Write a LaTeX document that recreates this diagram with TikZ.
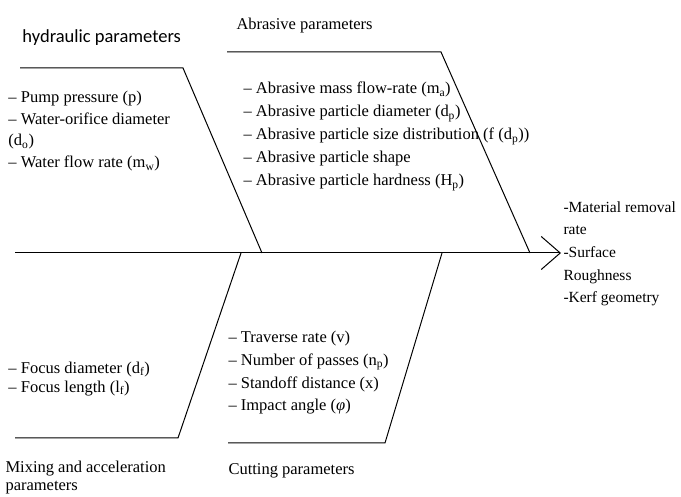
\documentclass[tikz,border=0pt]{standalone}
\usepackage{fontspec}
\setmainfont{Liberation Serif}
\newfontfamily\calibrifont{Carlito}
\usetikzlibrary{arrows.meta}
\begin{document}
\begin{tikzpicture}[x=1pt, y=-1pt, line width=1pt,
    every node/.style={inner sep=0pt, anchor=base west, align=left},
    item/.style={font=\fontsize{16.5}{23}\selectfont},
    title/.style={font=\fontsize{16.5}{18}\selectfont}]
            \useasboundingbox (0,0) rectangle (681,497);
            % spine
            \coordinate (tail) at (15,253);
            \coordinate (head) at (561,253);
            \draw[-{Straight Barb[length=19pt, width=33pt]}] (tail) -- (head);
            % upper bones
            \coordinate (h1) at (20,68);
            \coordinate (h2) at (183,68);
            \coordinate (h3) at (262,253);
            \draw (h1) -- (h2) -- (h3);
            \coordinate (a1) at (227,52);
            \coordinate (a2) at (441,52);
            \coordinate (a3) at (530,253);
            \draw (a1) -- (a2) -- (a3);
            % lower bones
            \coordinate (m1) at (15,438);
            \coordinate (m2) at (178,438);
            \coordinate (m3) at (241,253);
            \draw (m1) -- (m2) -- (m3);
            \coordinate (c1) at (228,443);
            \coordinate (c2) at (385,443);
            \coordinate (c3) at (442,253);
            \draw (c1) -- (c2) -- (c3);
            % titles (anchored on the last line)
            \node[font=\calibrifont\fontsize{18.5}{20}\selectfont] (hyd) at (22,43) {hydraulic parameters};
            \node[title] (abr) at (236,30) {Abrasive parameters};
            \node[title] (mix) at (5,490) {Mixing and acceleration\\parameters};
            \node[title] (cut) at (228,475) {Cutting parameters};
            % lists
            \node[item, font=\fontsize{16.5}{21.5}\selectfont] (hydlist) at (8,167.5)
                {-- Pump pressure (p)\\-- Water-orifice diameter\\(d\textsubscript{o})\\-- Water flow rate (m\textsubscript{w})};
            \node[item] (abrlist) at (243,186)
                {-- Abrasive mass flow-rate (m\textsubscript{a})\\-- Abrasive particle diameter (d\textsubscript{p})\\-- Abrasive particle size distribution (f (d\textsubscript{p}))\\-- Abrasive particle shape\\-- Abrasive particle hardness (H\textsubscript{p})};
            \node[item, font=\fontsize{16.5}{19}\selectfont] (mixlist) at (8,392)
                {-- Focus diameter (d\textsubscript{f})\\-- Focus length (l\textsubscript{f})};
            \node[item] (cutlist) at (228,411)
                {-- Traverse rate (v)\\-- Number of passes (n\textsubscript{p})\\-- Standoff distance (x)\\-- Impact angle (\textit{φ})};
            % effect
            \node[item, font=\fontsize{15.5}{22.7}\selectfont] (effect) at (563,303)
                {-Material removal\\rate\\-Surface\\Roughness\\-Kerf geometry};
        \end{tikzpicture}
\end{document}
